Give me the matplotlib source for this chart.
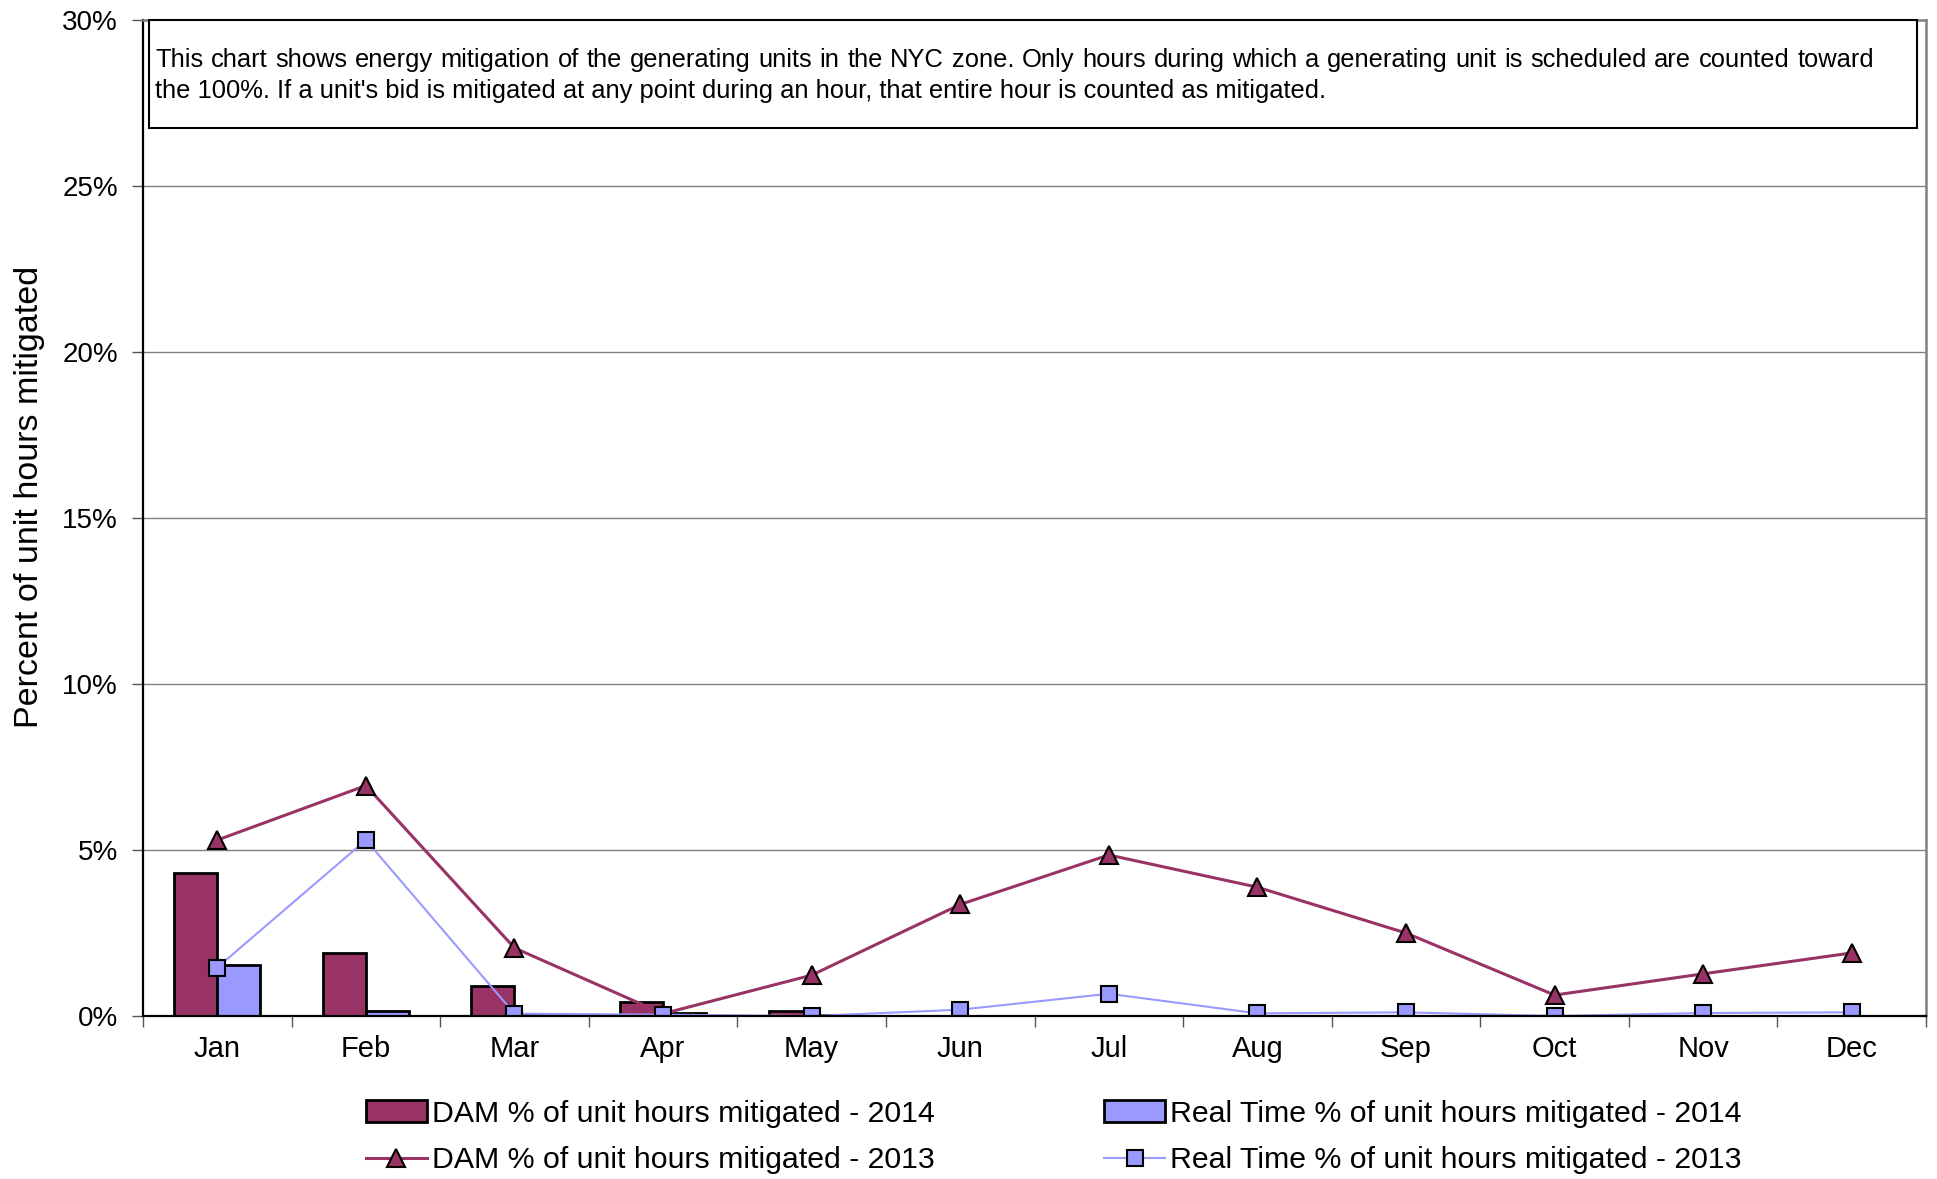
import numpy as np
import matplotlib
matplotlib.use("Agg")
import matplotlib.pyplot as plt
from matplotlib.patches import Rectangle, Patch
from matplotlib.lines import Line2D

plt.rcParams['font.family'] = ['Liberation Sans', 'DejaVu Sans']

# data (percent of unit hours mitigated)
months = ['Jan', 'Feb', 'Mar', 'Apr', 'May', 'Jun', 'Jul', 'Aug', 'Sep', 'Oct', 'Nov', 'Dec']
dam_2014 = [4.3, 1.9, 0.9, 0.41, 0.16]
rt_2014 = [1.53, 0.15, 0.03, 0.1, 0.02]
dam_2013 = [5.3, 6.94, 2.05, 0.07, 1.23, 3.36, 4.85, 3.88, 2.5, 0.63, 1.27, 1.9]
rt_2013 = [1.46, 5.3, 0.07, 0.04, 0.0, 0.19, 0.67, 0.08, 0.11, 0.0, 0.09, 0.11]
yticks = [0, 5, 10, 15, 20, 25, 30]

labels = ['DAM % of unit hours mitigated - 2014',
          'Real Time % of unit hours mitigated - 2014',
          'DAM % of unit hours mitigated - 2013',
          'Real Time % of unit hours mitigated - 2013']

note1 = ("This chart shows energy mitigation of the generating units in the NYC zone.  "
         "Only hours during which a generating unit is scheduled are counted toward")
note2 = ("the 100%. If a unit's bid is mitigated at any point during an hour, "
         "that entire hour is counted as mitigated.")

dam_col = '#993366'
rt_col = '#9999FF'

W, H = 1937, 1179
fig = plt.figure(figsize=(W / 100, H / 100), dpi=100)
ax = fig.add_axes([143 / W, 1 - 1016 / H, (1926 - 143) / W, (1016 - 20) / H])

x = np.arange(len(months))
bw = 0.29
ax.bar(x[:len(dam_2014)] - bw / 2, dam_2014, bw, color=dam_col, edgecolor='black', linewidth=2, zorder=3)
ax.bar(x[:len(rt_2014)] + bw / 2, rt_2014, bw, color=rt_col, edgecolor='black', linewidth=2, zorder=3)
ax.plot(x, dam_2013, color=dam_col, lw=2.2, marker='^', ms=13, mfc=dam_col, mec='black', mew=1.5, zorder=4)
ax.plot(x, rt_2013, color=rt_col, lw=1.5, marker='s', ms=11, mfc=rt_col, mec='black', mew=1.5, zorder=4)

ax.set_xlim(-0.5, 11.5)
ax.set_ylim(0, 30)
ax.set_yticks(yticks)
ax.set_yticklabels([f'{v}%' for v in yticks], fontsize=20)
ax.set_xticks(x)
ax.set_xticklabels(months, fontsize=21)
ax.set_xticks(np.arange(-0.5, 12, 1), minor=True)
ax.tick_params(axis='x', which='major', length=0, pad=14)
ax.tick_params(axis='x', which='minor', length=8, width=1, color='#555555')
ax.tick_params(axis='y', length=8, width=1, color='#555555', pad=10)

for v in yticks[1:]:
    ax.axhline(v, color='#808080', lw=1, zorder=1)

ax.spines['left'].set_color('black')
ax.spines['left'].set_linewidth(1.6)
ax.spines['bottom'].set_color('black')
ax.spines['bottom'].set_linewidth(1.6)
ax.spines['bottom'].set_zorder(5)
ax.spines['top'].set_color('#808080')
ax.spines['right'].set_color('#808080')
ax.spines['top'].set_linewidth(1.8)
ax.spines['right'].set_linewidth(1.8)

fig.text(30 / W, 1 - 497 / H, 'Percent of unit hours mitigated', rotation=90,
         fontsize=24.5, ha='center', va='center')

# note box
ax.add_patch(Rectangle((6 / 1783, 1 - 108 / 996), 1768 / 1783, 108 / 996, transform=ax.transAxes,
                       facecolor='white', edgecolor='black', lw=1.5, zorder=6, clip_on=False))

fig.canvas.draw()
r = fig.canvas.get_renderer()
probe = fig.text(0, 0, note2, fontsize=10)
size = 10 * 1176 / probe.get_window_extent(r).width
probe.remove()

fig.text(155 / W, 1 - 91 / H, note2, fontsize=size, ha='left', va='center')
words = note1.split(' ')
words = [w for w in words if w]
texts = [fig.text(0, 1 - 60 / H, w, fontsize=size, ha='left', va='center') for w in words]
fig.canvas.draw()
widths = [t.get_window_extent(r).width for t in texts]
gap = (1874 - 155 - sum(widths)) / (len(words) - 1)
pos = 155
for t, w in zip(texts, widths):
    t.set_x(pos / W)
    pos += w + gap

handles = [Patch(facecolor=dam_col, edgecolor='black', lw=2),
           Patch(facecolor=rt_col, edgecolor='black', lw=2),
           Line2D([], [], color=dam_col, lw=2.2, marker='^', ms=13, mfc=dam_col, mec='black', mew=1.5),
           Line2D([], [], color=rt_col, lw=1.5, marker='s', ms=11, mfc=rt_col, mec='black', mew=1.5)]
order = [0, 2, 1, 3]
fig.legend([handles[i] for i in order], [labels[i] for i in order], ncol=2, loc='center',
           bbox_to_anchor=(1054 / W, 1 - 1137 / H), frameon=False, fontsize=21.8,
           handlelength=2.0, handletextpad=0.18, columnspacing=5.6, labelspacing=0.62)

fig.savefig('out.png', dpi=100)
